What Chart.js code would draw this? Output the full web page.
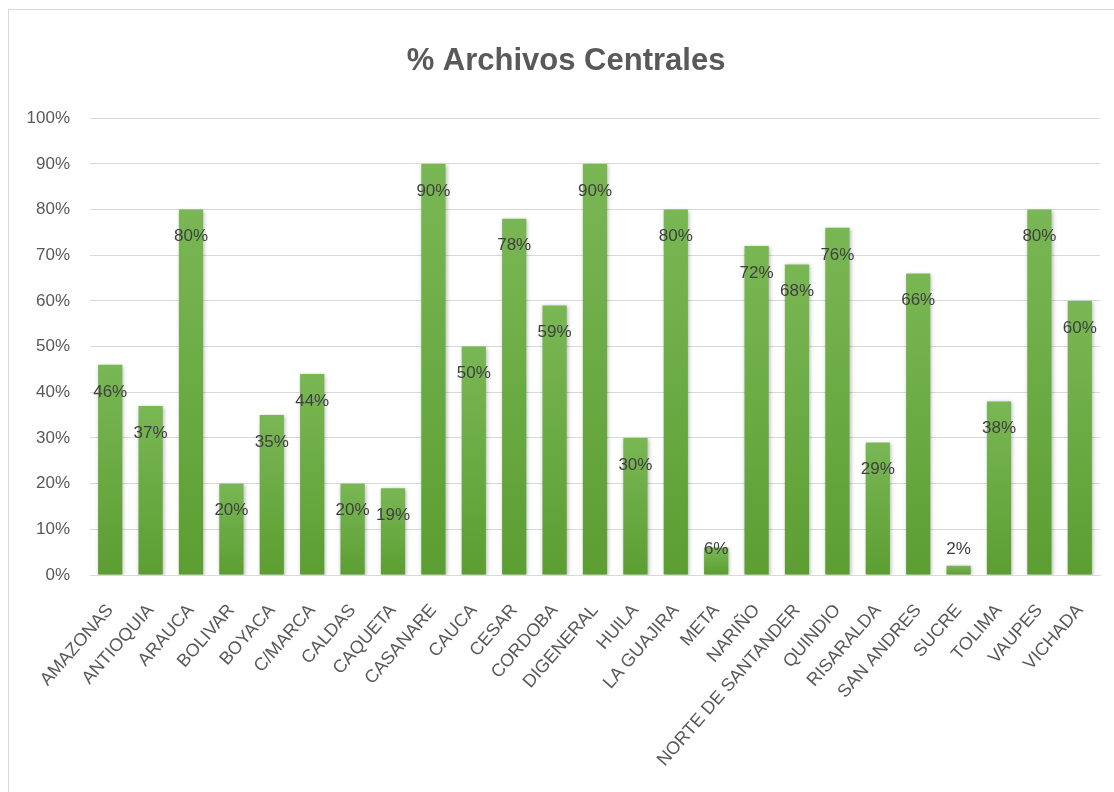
<!DOCTYPE html>
<html>
<head>
<meta charset="utf-8">
<script src="https://cdn.jsdelivr.net/npm/chart.js@4/dist/chart.umd.min.js"></script>
<style>
  html, body { margin: 0; padding: 0; background: #fff; overflow: hidden; }
  #frame { position: absolute; left: 8px; top: 9px; width: 1200px; height: 900px; border: 1px solid #d9d9d9; box-sizing: border-box; }
  #wrap { position: absolute; left: 0; top: 0; width: 1114px; height: 792px; }
</style>
</head>
<body>
<div id="frame"></div>
<div id="wrap"><canvas id="c" width="1114" height="792"></canvas></div>
<script>
const categories = ["AMAZONAS","ANTIOQUIA","ARAUCA","BOLIVAR","BOYACA","C/MARCA","CALDAS","CAQUETA","CASANARE","CAUCA","CESAR","CORDOBA","DIGENERAL","HUILA","LA GUAJIRA","META","NARIÑO","NORTE DE SANTANDER","QUINDIO","RISARALDA","SAN ANDRES","SUCRE","TOLIMA","VAUPES","VICHADA"];
const values = [46,37,80,20,35,44,20,19,90,50,78,59,90,30,80,6,72,68,76,29,66,2,38,80,60];
const yTicks = [0,10,20,30,40,50,60,70,80,90,100];
const titleText = "% Archivos Centrales";

const labelPlugin = {
  id: 'barLabels',
  afterDatasetsDraw(chart) {
    const ctx = chart.ctx;
    const meta = chart.getDatasetMeta(0);
    ctx.save();
    ctx.font = '17px "Liberation Sans", Arial, sans-serif';
    ctx.fillStyle = '#404040';
    ctx.textAlign = 'center';
    ctx.textBaseline = 'middle';
    meta.data.forEach((bar, i) => {
      const y = Math.min(bar.y + 27, bar.base - 25);
      ctx.fillText(values[i] + '%', bar.x, y);
    });
    ctx.restore();
  }
};

const shadowPlugin = {
  id: 'barShadow',
  beforeDatasetDraw(chart) {
    const ctx = chart.ctx;
    ctx.save();
    ctx.shadowColor = 'rgba(0,0,0,0.28)';
    ctx.shadowBlur = 4;
    ctx.shadowOffsetX = 1;
    ctx.shadowOffsetY = 1;
  },
  afterDatasetDraw(chart) {
    chart.ctx.restore();
  }
};

// shift the title block so its centre matches the original (outer frame centre)
const titleShiftPlugin = {
  id: 'titleShift',
  afterLayout(chart) {
    if (chart.titleBlock) chart.titleBlock.left = 32;
  }
};

new Chart(document.getElementById('c'), {
  type: 'bar',
  data: {
    labels: categories,
    datasets: [{
      data: values,
      backgroundColor: (c) => {
        const chart = c.chart;
        const ca = chart.chartArea;
        if (!ca || c.raw === undefined) return '#6aab42';
        const top = chart.scales.y.getPixelForValue(c.raw);
        const g = chart.ctx.createLinearGradient(0, top, 0, ca.bottom);
        g.addColorStop(0, '#79b754');
        g.addColorStop(1, '#5c9e32');
        return g;
      },
      borderWidth: 0,
      barPercentage: 0.6,
      categoryPercentage: 1.0
    }]
  },
  options: {
    responsive: false,
    animation: false,
    layout: { padding: { left: 0, right: 14, top: 0, bottom: 0 } },
    plugins: {
      legend: { display: false },
      tooltip: { enabled: false },
      title: {
        display: true,
        text: titleText,
        color: '#595959',
        font: { family: '"Liberation Sans", Arial, sans-serif', size: 31, weight: 'bold', lineHeight: 1.2 },
        padding: { top: 43, bottom: 38 }
      }
    },
    scales: {
      x: {
        grid: { display: false, drawTicks: false },
        border: { display: true, color: '#d9d9d9', width: 1 },
        ticks: {
          color: '#595959',
          font: { family: '"Liberation Sans", Arial, sans-serif', size: 18 },
          minRotation: 49,
          maxRotation: 49,
          autoSkip: false,
          padding: 25
        },
        afterFit(scale) {
          scale.height = 217;
          scale.paddingLeft = 0;
          scale.paddingRight = 0;
        }
      },
      y: {
        min: 0,
        max: 100,
        afterBuildTicks(scale) { scale.ticks = yTicks.map(v => ({ value: v })); },
        grid: { color: '#d9d9d9', lineWidth: 1, drawTicks: false },
        border: { display: false },
        ticks: {
          color: '#595959',
          font: { family: '"Liberation Sans", Arial, sans-serif', size: 17 },
          padding: 20,
          callback: (v) => v + '%'
        },
        afterFit(scale) {
          scale.width = 90;
          scale.paddingTop = 0;
          scale.paddingBottom = 0;
        }
      }
    }
  },
  plugins: [shadowPlugin, labelPlugin, titleShiftPlugin]
});
</script>
</body>
</html>
